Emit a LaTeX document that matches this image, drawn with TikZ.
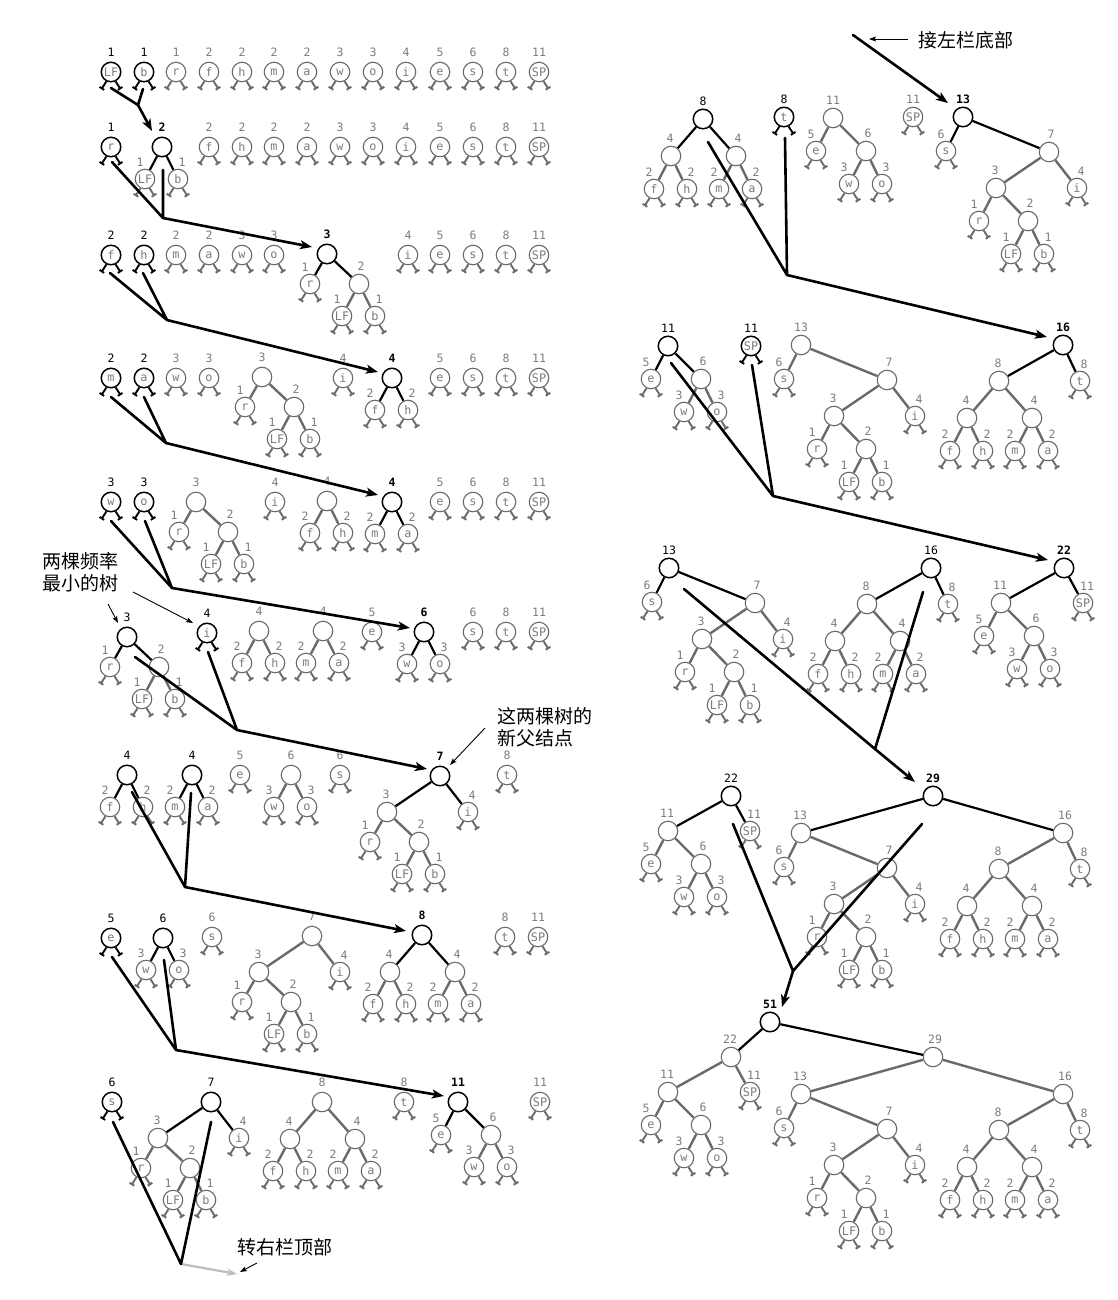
\documentclass[tikz,border=0pt]{standalone}
\usepackage{fontspec}
\setmonofont{DejaVu Sans Mono}
\newfontfamily\cjk{Noto Sans CJK SC}
\usetikzlibrary{arrows.meta}
\definecolor{gc}{HTML}{6A6A6A}
\definecolor{gt}{HTML}{7C7C7C}
\definecolor{la}{HTML}{BDBDBD}
\newcommand\ty{20}
\newcommand\dyA{30}
\newcommand\dyB{32}
\tikzset{
  nd/.style={circle,minimum size=19.5pt,inner sep=0pt,line width=1.1pt,draw=gc,
     font=\ttfamily\fontsize{11.8}{11.8}\selectfont,text=gt},
  s-g/.style={},
  s-a/.style={draw=black,line width=1.5pt},
  s-n/.style={draw=black,line width=1.5pt},
  wl/.style={inner sep=0pt,font=\ttfamily\fontsize{11.5}{11.5}\selectfont},
  wl-g/.style={wl,text=gt},
  wl-a/.style={wl,text=black},
  wl-n/.style={wl,text=black,font=\ttfamily\bfseries\fontsize{11.5}{11.5}\selectfont},
  wp-t/.style={yshift=\ty pt},
  wp-L/.style={xshift=-5pt,yshift=17pt},
  wp-R/.style={xshift=4pt,yshift=17pt},
  wp-l/.style={xshift=-1pt,yshift=18pt},
  wp-r/.style={xshift=2pt,yshift=18pt},
  e-g/.style={draw=gc,line width=2.4pt},
  e-a/.style={draw=black,line width=2.2pt},
  e-n/.style={e-a},
  lg-g/.style={draw=gc,line width=1.9pt},
  lg-a/.style={draw=black,line width=1.9pt},
  lg-n/.style={lg-a},
  conn/.style={draw=black,line width=2.6pt,line cap=round,line join=round},
  arr/.style={draw=black,line width=2.6pt,line cap=round,-{Stealth[length=12pt,width=9pt,inset=3pt]}},
  garr/.style={draw=la,line width=2.2pt,-{Stealth[length=10pt,width=7pt,inset=2.5pt]}},
  note/.style={font=\cjk\fontsize{19}{22}\selectfont,align=left,inner sep=0pt,anchor=west},
  narr/.style={draw=black,line width=0.9pt,-{Stealth[length=7pt,width=5pt,inset=1.5pt]}},
}
% weight label
\newcommand\Wt[4]{\node[wl-#4,wp-#2] (#1w) at (#1) {#3};}
% leaf: name x y letter weight state labelpos
\newcommand\Lv[7]{%
  \node[nd,s-#6] (#1) at (#2,#3) {#4};
  \draw[lg-#6] (#1.-116) -- ++(-4.5,7) ++(-2.3,-1.5) -- ++(4.6,3);
  \draw[lg-#6] (#1.-64) -- ++(4.5,7) ++(-2.3,1.5) -- ++(4.6,-3);
  \Wt{#1}{#7}{#5}{#6}}
% internal: name x y weight state labelpos
\newcommand\Nd[6]{\node[nd,s-#5] (#1) at (#2,#3) {}; \Wt{#1}{#6}{#4}{#5}}
\newcommand\Ed[3]{\draw[e-#3] (#1) -- (#2);}
% pair at origin: p st lp w L wl R wr
\newcommand\PairT[8]{%
  \Nd{#1}{0}{0}{#4}{#2}{#3}
  \Lv{#1L}{-17}{\dyB}{#5}{#6}{g}{L}
  \Lv{#1R}{16}{\dyB}{#7}{#8}{g}{R}
  \Ed{#1}{#1L}{#2}\Ed{#1}{#1R}{#2}}
\newcommand\TTwo[5]{\begin{scope}[shift={(#2,#3)}]\PairT{#1}{#4}{#5}{2}{LF}{1}{b}{1}\end{scope}}
\newcommand\TFa[5]{\begin{scope}[shift={(#2,#3)}]\PairT{#1}{#4}{#5}{4}{f}{2}{h}{2}\end{scope}}
\newcommand\TFb[5]{\begin{scope}[shift={(#2,#3)}]\PairT{#1}{#4}{#5}{4}{m}{2}{a}{2}\end{scope}}
\newcommand\TSix[5]{\begin{scope}[shift={(#2,#3)}]\PairT{#1}{#4}{#5}{6}{w}{3}{o}{3}\end{scope}}
\newcommand\TThree[5]{\begin{scope}[shift={(#2,#3)}]
  \Nd{#1}{0}{0}{3}{#4}{#5}
  \Lv{#1r}{-17}{\dyA}{r}{1}{g}{L}
  \TTwo{#1t}{32}{\dyA}{g}{r}
  \Ed{#1}{#1r}{#4}\Ed{#1}{#1t}{#4}\end{scope}}
\newcommand\TSeven[5]{\begin{scope}[shift={(#2,#3)}]
  \Nd{#1}{0}{0}{7}{#4}{#5}
  \TThree{#1t}{-53}{36}{g}{l}
  \Lv{#1i}{28}{36}{i}{4}{g}{R}
  \Ed{#1}{#1t}{#4}\Ed{#1}{#1i}{#4}\end{scope}}
\newcommand\TEight[5]{\begin{scope}[shift={(#2,#3)}]
  \Nd{#1}{0}{0}{8}{#4}{#5}
  \TFa{#1u}{-32}{37}{g}{l}
  \TFb{#1v}{33}{37}{g}{r}
  \Ed{#1}{#1u}{#4}\Ed{#1}{#1v}{#4}\end{scope}}
\newcommand\TEleven[5]{\begin{scope}[shift={(#2,#3)}]
  \Nd{#1}{0}{0}{11}{#4}{#5}
  \Lv{#1e}{-17}{33}{e}{5}{g}{L}
  \TSix{#1x}{33}{33}{g}{r}
  \Ed{#1}{#1e}{#4}\Ed{#1}{#1x}{#4}\end{scope}}
\newcommand\TThirteen[5]{\begin{scope}[shift={(#2,#3)}]
  \Nd{#1}{0}{0}{13}{#4}{#5}
  \Lv{#1s}{-17}{34}{s}{6}{g}{L}
  \TSeven{#1x}{86}{35}{g}{r}
  \Ed{#1}{#1s}{#4}\Ed{#1}{#1x}{#4}\end{scope}}
\newcommand\TSixteen[5]{\begin{scope}[shift={(#2,#3)}]
  \Nd{#1}{0}{0}{16}{#4}{#5}
  \TEight{#1x}{-64}{36}{g}{l}
  \Lv{#1t}{17}{36}{t}{8}{g}{R}
  \Ed{#1}{#1x}{#4}\Ed{#1}{#1t}{#4}\end{scope}}
\newcommand\TTwentyTwo[5]{\begin{scope}[shift={(#2,#3)}]
  \Nd{#1}{0}{0}{22}{#4}{#5}
  \TEleven{#1x}{-63}{35}{g}{l}
  \Lv{#1s}{19}{35}{SP}{11}{g}{R}
  \Ed{#1}{#1x}{#4}\Ed{#1}{#1s}{#4}\end{scope}}
\newcommand\TTwentyNine[5]{\begin{scope}[shift={(#2,#3)}]
  \Nd{#1}{0}{0}{29}{#4}{#5}
  \TThirteen{#1x}{-132}{37}{g}{l}
  \TSixteen{#1y}{130}{37}{g}{r}
  \Ed{#1}{#1x}{#4}\Ed{#1}{#1y}{#4}\end{scope}}
\newcommand\TFiftyOne[5]{\begin{scope}[shift={(#2,#3)}]
  \Nd{#1}{0}{0}{51}{#4}{#5}
  \TTwentyTwo{#1x}{-39}{35}{g}{l}
  \TTwentyNine{#1y}{163}{35}{g}{r}
  \Ed{#1}{#1x}{#4}\Ed{#1}{#1y}{#4}\end{scope}}

\begin{document}
\begin{tikzpicture}[x=1pt,y=-1pt]
\fill[white] (0,0) rectangle (1118,1300);
\useasboundingbox (0,0) rectangle (1118,1300);

% ---------- Row 1
\Lv{A1}{111}{72}{LF}{1}{a}{t}
\Lv{A2}{144}{72}{b}{1}{a}{t}
\Lv{A3}{176}{72}{r}{1}{g}{t}
\Lv{A4}{209}{72}{f}{2}{g}{t}
\Lv{A5}{242}{72}{h}{2}{g}{t}
\Lv{A6}{274}{72}{m}{2}{g}{t}
\Lv{A7}{307}{72}{a}{2}{g}{t}
\Lv{A8}{340}{72}{w}{3}{g}{t}
\Lv{A9}{373}{72}{o}{3}{g}{t}
\Lv{A10}{406}{72}{i}{4}{g}{t}
\Lv{A11}{440}{72}{e}{5}{g}{t}
\Lv{A12}{473}{72}{s}{6}{g}{t}
\Lv{A13}{506}{72}{t}{8}{g}{t}
\Lv{A14}{539}{72}{SP}{11}{g}{t}
% ---------- Row 2
\Lv{B1}{111}{147}{r}{1}{a}{t}
\TTwo{B2}{162}{147}{n}{t}
\Lv{B3}{209}{147}{f}{2}{g}{t}
\Lv{B4}{242}{147}{h}{2}{g}{t}
\Lv{B5}{274}{147}{m}{2}{g}{t}
\Lv{B6}{307}{147}{a}{2}{g}{t}
\Lv{B7}{340}{147}{w}{3}{g}{t}
\Lv{B8}{373}{147}{o}{3}{g}{t}
\Lv{B9}{406}{147}{i}{4}{g}{t}
\Lv{B10}{440}{147}{e}{5}{g}{t}
\Lv{B11}{473}{147}{s}{6}{g}{t}
\Lv{B12}{506}{147}{t}{8}{g}{t}
\Lv{B13}{539}{147}{SP}{11}{g}{t}
% ---------- Row 3
\Lv{C1}{111}{255}{f}{2}{a}{t}
\Lv{C2}{144}{255}{h}{2}{a}{t}
\Lv{C3}{176}{255}{m}{2}{g}{t}
\Lv{C4}{209}{255}{a}{2}{g}{t}
\Lv{C5}{242}{255}{w}{3}{g}{t}
\Lv{C6}{274}{255}{o}{3}{g}{t}
\TThree{C7}{327}{254}{n}{t}
\Lv{C8}{408}{255}{i}{4}{g}{t}
\Lv{C9}{440}{255}{e}{5}{g}{t}
\Lv{C10}{473}{255}{s}{6}{g}{t}
\Lv{C11}{506}{255}{t}{8}{g}{t}
\Lv{C12}{539}{255}{SP}{11}{g}{t}
% ---------- Row 4
\Lv{D1}{111}{378}{m}{2}{a}{t}
\Lv{D2}{144}{378}{a}{2}{a}{t}
\Lv{D3}{176}{378}{w}{3}{g}{t}
\Lv{D4}{209}{378}{o}{3}{g}{t}
\TThree{D5}{262}{377}{g}{t}
\Lv{D6}{343}{378}{i}{4}{g}{t}
\TFa{D7}{392}{378}{n}{t}
\Lv{D8}{440}{378}{e}{5}{g}{t}
\Lv{D9}{473}{378}{s}{6}{g}{t}
\Lv{D10}{506}{378}{t}{8}{g}{t}
\Lv{D11}{539}{378}{SP}{11}{g}{t}
% ---------- Row 5
\Lv{E1}{111}{502}{w}{3}{a}{t}
\Lv{E2}{144}{502}{o}{3}{a}{t}
\TThree{E3}{196}{502}{g}{t}
\Lv{E4}{275}{502}{i}{4}{g}{t}
\TFa{E5}{327}{501}{g}{t}
\TFb{E6}{392}{502}{n}{t}
\Lv{E7}{440}{502}{e}{5}{g}{t}
\Lv{E8}{473}{502}{s}{6}{g}{t}
\Lv{E9}{506}{502}{t}{8}{g}{t}
\Lv{E10}{539}{502}{SP}{11}{g}{t}
% ---------- Row 6
\TThree{F1}{127}{637}{a}{t}
\Lv{F2}{207}{633}{i}{4}{a}{t}
\TFa{F3}{259}{631}{g}{t}
\TFb{F4}{323}{631}{g}{t}
\Lv{F5}{372}{632}{e}{5}{g}{t}
\TSix{F6}{424}{632}{n}{t}
\Lv{F7}{473}{632}{s}{6}{g}{t}
\Lv{F8}{506}{632}{t}{8}{g}{t}
\Lv{F9}{539}{632}{SP}{11}{g}{t}
% ---------- Row 7
\TFa{G1}{127}{775}{a}{t}
\TFb{G2}{192}{775}{a}{t}
\Lv{G3}{240}{775}{e}{5}{g}{t}
\TSix{G4}{291}{775}{g}{t}
\Lv{G5}{340}{775}{s}{6}{g}{t}
\TSeven{G6}{440}{776}{n}{t}
\Lv{G7}{507}{775}{t}{8}{g}{t}
% ---------- Row 8
\Lv{H1}{111}{938}{e}{5}{a}{t}
\TSix{H2}{163}{938}{a}{t}
\Lv{H3}{212}{937}{s}{6}{g}{t}
\TSeven{H4}{312}{936}{g}{t}
\TEight{H5}{422}{935}{n}{t}
\Lv{H6}{505}{937}{t}{8}{g}{t}
\Lv{H7}{538}{937}{SP}{11}{g}{t}
% ---------- Row 9
\Lv{I1}{112}{1102}{s}{6}{a}{t}
\TSeven{I2}{211}{1102}{a}{t}
\TEight{I3}{322}{1102}{g}{t}
\Lv{I4}{404}{1102}{t}{8}{g}{t}
\TEleven{I5}{458}{1102}{n}{t}
\Lv{I6}{540}{1102}{SP}{11}{g}{t}

% ========== Right column
\renewcommand\dyA{33}\renewcommand\dyB{33}\renewcommand\ty{18}
\TEight{J1}{703}{119}{a}{t}
\Lv{J2}{784}{117}{t}{8}{a}{t}
\TEleven{J3}{833}{118}{g}{t}
\Lv{J4}{913}{117}{SP}{11}{g}{t}
\TThirteen{J5}{963}{117}{n}{t}

\TEleven{K1}{668}{346}{a}{t}
\Lv{K2}{751}{346}{SP}{11}{a}{t}
\TThirteen{K3}{801}{345}{g}{t}
\TSixteen{K4}{1063}{345}{n}{t}

\TThirteen{L1}{669}{568}{a}{t}
\TSixteen{L2}{931}{568}{a}{t}
\TTwentyTwo{L3}{1064}{568}{n}{t}

\TTwentyTwo{M1}{731}{796}{a}{t}
\TTwentyNine{M2}{933}{796}{n}{t}

\TFiftyOne{N1}{770}{1022}{n}{t}

% ========== Connectors
\coordinate (p1a) at (111,88); \coordinate (p1b) at (143,89);
\coordinate (j1) at (138,105); \coordinate (t1) at (152,131);
\draw[conn] (p1a) -- (j1) -- (p1b); \draw[arr] (j1) -- (t1);

\coordinate (p2a) at (112,162); \coordinate (p2b) at (163,170);
\coordinate (j2) at (163,218); \coordinate (t2) at (312,247);
\draw[conn] (p2a) -- (j2) -- (p2b); \draw[arr] (j2) -- (t2);

\coordinate (p3a) at (110,273); \coordinate (p3b) at (143,273);
\coordinate (j3) at (167,320); \coordinate (t3) at (378,372);
\draw[conn] (p3a) -- (j3) -- (p3b); \draw[arr] (j3) -- (t3);

\coordinate (p4a) at (111,397); \coordinate (p4b) at (144,397);
\coordinate (j4) at (166,443); \coordinate (t4) at (378,495);
\draw[conn] (p4a) -- (j4) -- (p4b); \draw[arr] (j4) -- (t4);

\coordinate (p5a) at (111,521); \coordinate (p5b) at (145,521);
\coordinate (j5) at (172,588); \coordinate (t5) at (410,628);
\draw[conn] (p5a) -- (j5) -- (p5b); \draw[arr] (j5) -- (t5);

\coordinate (p6a) at (135,657); \coordinate (p6b) at (208,652);
\coordinate (j6) at (237,730); \coordinate (t6) at (427,769);
\draw[conn] (p6a) -- (j6) -- (p6b); \draw[arr] (j6) -- (t6);

\coordinate (p7a) at (132,792); \coordinate (p7b) at (191,793);
\coordinate (j7) at (185,887); \coordinate (t7) at (406,931);
\draw[conn] (p7a) -- (j7) -- (p7b); \draw[arr] (j7) -- (t7);

\coordinate (p8a) at (112,957); \coordinate (p8b) at (164,960);
\coordinate (j8) at (176,1050); \coordinate (t8) at (444,1096);
\draw[conn] (p8a) -- (j8) -- (p8b); \draw[arr] (j8) -- (t8);

\coordinate (p9a) at (113,1122); \coordinate (p9b) at (211,1122);
\coordinate (j9) at (181,1264); \coordinate (t9) at (237,1274);
\draw[garr] (j9) -- (t9);
\draw[conn] (p9a) -- (j9) -- (p9b);

\coordinate (p10) at (853,35); \coordinate (t10) at (948,103);
\draw[arr] (p10) -- (t10);

\coordinate (p11a) at (708,142); \coordinate (p11b) at (785,138);
\coordinate (j11) at (787,275); \coordinate (t11) at (1047,337);
\draw[conn] (p11a) -- (j11) -- (p11b); \draw[arr] (j11) -- (t11);

\coordinate (p12a) at (671,363); \coordinate (p12b) at (752,365);
\coordinate (j12) at (773,496); \coordinate (t12) at (1048,560);
\draw[conn] (p12a) -- (j12) -- (p12b); \draw[arr] (j12) -- (t12);

\coordinate (p13a) at (684,589); \coordinate (p13b) at (923,592);
\coordinate (j13) at (875,749); \coordinate (t13) at (915,782);
\draw[conn] (p13a) -- (j13) -- (p13b); \draw[arr] (j13) -- (t13);

\coordinate (p14a) at (733,824); \coordinate (p14b) at (922,824);
\coordinate (j14) at (793,971); \coordinate (t14) at (782,1007);
\draw[conn] (p14a) -- (j14) -- (p14b); \draw[arr] (j14) -- (t14);

% ========== Notes
\node[note] (nA) at (42,572) {两棵频率\\最小的树};
\coordinate (a1s) at (108,604); \coordinate (a1e) at (118,623);
\coordinate (a2s) at (133,592); \coordinate (a2e) at (193,623);
\draw[narr] (a1s) -- (a1e); \draw[narr] (a2s) -- (a2e);

\node[note] (nB) at (497,727) {这两棵树的\\新父结点};
\coordinate (a3s) at (485,728); \coordinate (a3e) at (450,765);
\draw[narr] (a3s) -- (a3e);

\node[note] (nC) at (237,1247) {转右栏顶部};
\coordinate (a4s) at (257,1263); \coordinate (a4e) at (240,1272);
\draw[narr] (a4s) -- (a4e);

\node[note] (nD) at (918,40) {接左栏底部};
\coordinate (a5s) at (908,39); \coordinate (a5e) at (869,39);
\draw[narr] (a5s) -- (a5e);
\end{tikzpicture}
\end{document}
